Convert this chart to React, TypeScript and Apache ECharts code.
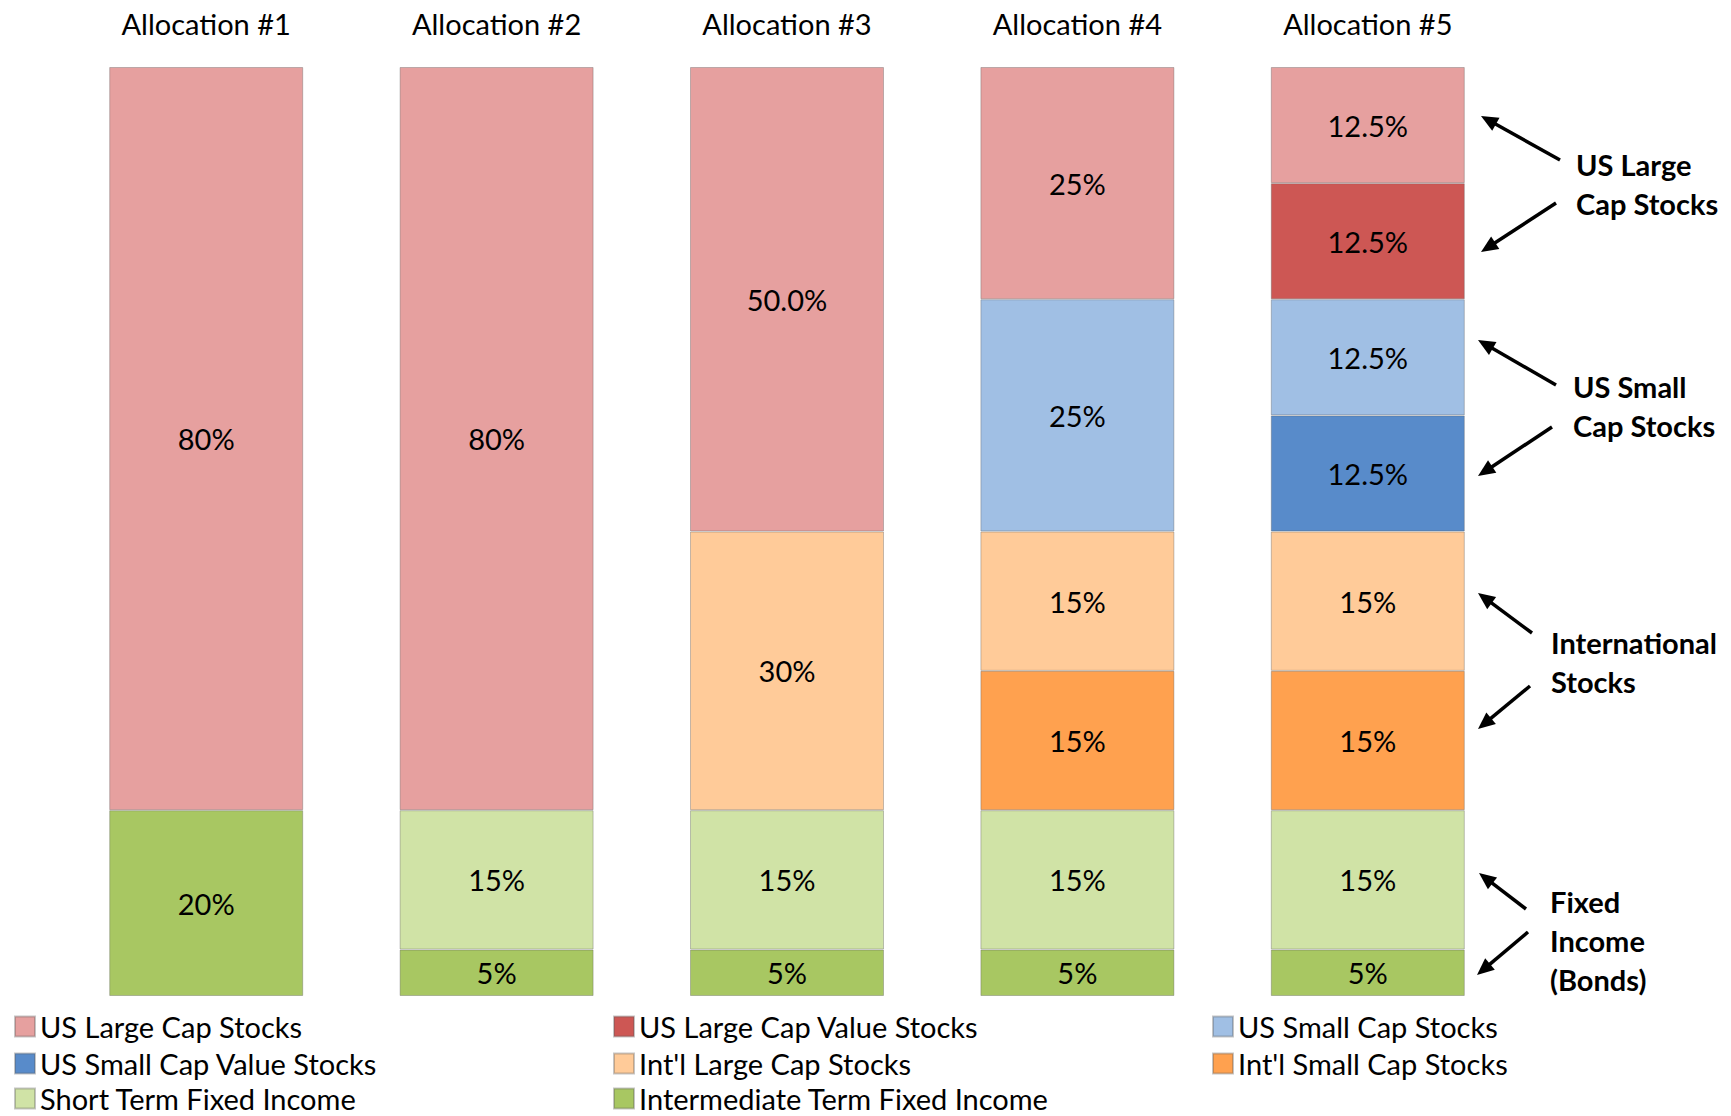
import React, { useEffect, useRef } from "react";
import * as echarts from "echarts";

// Portfolio allocations, in percent of the portfolio
const categories = ["Allocation #1", "Allocation #2", "Allocation #3", "Allocation #4", "Allocation #5"];

const usLargeCap = [80, 80, 50, 25, 12.5];
const usLargeCapValue = [0, 0, 0, 0, 12.5];
const usSmallCap = [0, 0, 0, 25, 12.5];
const usSmallCapValue = [0, 0, 0, 0, 12.5];
const intlLargeCap = [0, 0, 30, 15, 15];
const intlSmallCap = [0, 0, 0, 15, 15];
const shortTermFixed = [0, 15, 15, 15, 15];
const intermediateFixed = [20, 5, 5, 5, 5];

// Decimal places on the US large cap labels (Allocation #3 is written "50.0%")
const usLargeCapDecimals = [0, 0, 1, 0, 1];

const FONT = "Lato, 'Noto Sans', sans-serif";

// Stacked from the bottom of each bar upward
const seriesDefs: { name: string; data: number[]; color: string; decimals?: number[] }[] = [
  { name: "Intermediate Term Fixed Income", data: intermediateFixed, color: "#A8C762" },
  { name: "Short Term Fixed Income", data: shortTermFixed, color: "#D0E3A6" },
  { name: "Int'l Small Cap Stocks", data: intlSmallCap, color: "#FFA14F" },
  { name: "Int'l Large Cap Stocks", data: intlLargeCap, color: "#FFCB99" },
  { name: "US Small Cap Value Stocks", data: usSmallCapValue, color: "#588BCA" },
  { name: "US Small Cap Stocks", data: usSmallCap, color: "#A0BFE4" },
  { name: "US Large Cap Value Stocks", data: usLargeCapValue, color: "#CD5754" },
  { name: "US Large Cap Stocks", data: usLargeCap, color: "#E6A09F", decimals: usLargeCapDecimals },
];

// Legend grid: three columns, filled row by row
const legendOrder = [
  "US Large Cap Stocks",
  "US Large Cap Value Stocks",
  "US Small Cap Stocks",
  "US Small Cap Value Stocks",
  "Int'l Large Cap Stocks",
  "Int'l Small Cap Stocks",
  "Short Term Fixed Income",
  "Intermediate Term Fixed Income",
];
const legendColumnX = [14, 613, 1212];
const legendRowY = [1012, 1049, 1084];

// Side notes grouping the asset classes
const notes = [
  { text: "US Large\nCap Stocks", x: 1576, y: 145 },
  { text: "US Small\nCap Stocks", x: 1573, y: 367 },
  { text: "International\nStocks", x: 1551, y: 623 },
  { text: "Fixed\nIncome\n(Bonds)", x: 1550, y: 882 },
];
const arrows: [number, number, number, number][] = [
  [1560, 160, 1481, 116],
  [1556, 203, 1481, 252],
  [1556, 385, 1478, 340],
  [1552, 427, 1478, 476],
  [1532, 633, 1478, 593],
  [1530, 686, 1478, 729],
  [1526, 909, 1479, 873],
  [1528, 932, 1477, 975],
];

function fmt(v: number, decimals?: number) {
  const d = decimals !== undefined ? decimals : Number.isInteger(v) ? 0 : 1;
  return `${v.toFixed(d)}%`;
}

function annotationGraphics() {
  const out: any[] = [];
  const L = 17;
  const W = 7.5;
  arrows.forEach(([x1, y1, x2, y2]) => {
    const dx = x2 - x1;
    const dy = y2 - y1;
    const len = Math.hypot(dx, dy);
    const ux = dx / len;
    const uy = dy / len;
    const bx = x2 - ux * L;
    const by = y2 - uy * L;
    const nx = -uy;
    const ny = ux;
    out.push({
      type: "line",
      shape: { x1, y1, x2: bx + ux * 2, y2: by + uy * 2 },
      style: { stroke: "#000", lineWidth: 3.5 },
      silent: true,
    });
    out.push({
      type: "polygon",
      shape: {
        points: [
          [x2, y2],
          [bx + nx * W, by + ny * W],
          [bx - nx * W, by - ny * W],
        ],
      },
      style: { fill: "#000" },
      silent: true,
    });
  });
  notes.forEach((n) => {
    out.push({
      type: "text",
      x: n.x,
      y: n.y,
      silent: true,
      style: {
        text: n.text,
        fill: "#000",
        font: `bold 29px ${FONT}`,
        lineHeight: 39,
        textVerticalAlign: "top",
      },
    });
  });
  return out;
}

export default function App() {
  const ref = useRef<HTMLDivElement>(null);

  useEffect(() => {
    if (!ref.current) return;
    const chart = echarts.init(ref.current, null, { renderer: "svg" });

    const series = seriesDefs.map((s) => ({
      name: s.name,
      type: "bar",
      stack: "total",
      barWidth: 194,
      data: s.data.map((v) => (v === 0 ? "-" : v)),
      itemStyle: {
        color: s.color,
        borderColor: "rgba(90,90,90,0.35)",
        borderWidth: 1,
      },
      label: {
        show: true,
        position: "inside",
        color: "#000",
        fontFamily: FONT,
        fontSize: 29,
        formatter: (p: any) => fmt(Number(p.value), s.decimals ? s.decimals[p.dataIndex] : undefined),
      },
      emphasis: { disabled: true },
    }));

    const legends = legendOrder.map((name, i) => ({
      orient: "horizontal",
      left: legendColumnX[i % 3],
      top: legendRowY[Math.floor(i / 3)],
      data: [name],
      icon: "rect",
      itemWidth: 20,
      itemHeight: 20,
      padding: 0,
      selectedMode: false,
      textStyle: { fontFamily: FONT, fontSize: 29, lineHeight: 26, color: "#000" },
    }));

    chart.setOption({
      animation: false,
      backgroundColor: "#fff",
      textStyle: { fontFamily: FONT },
      grid: { left: 61, right: 218, top: 67, bottom: 120, containLabel: false },
      xAxis: {
        type: "category",
        position: "top",
        data: categories,
        axisLine: { show: false },
        axisTick: { show: false },
        axisLabel: { color: "#000", fontSize: 29, fontFamily: FONT, margin: 29, interval: 0 },
      },
      yAxis: {
        type: "value",
        min: 0,
        max: 100,
        show: false,
        splitLine: { show: false },
      },
      legend: legends,
      series,
      graphic: annotationGraphics(),
    });

    return () => chart.dispose();
  }, []);

  return <div ref={ref} style={{ width: 1731, height: 1116, position: "absolute", left: 0, top: 0 }} />;
}
